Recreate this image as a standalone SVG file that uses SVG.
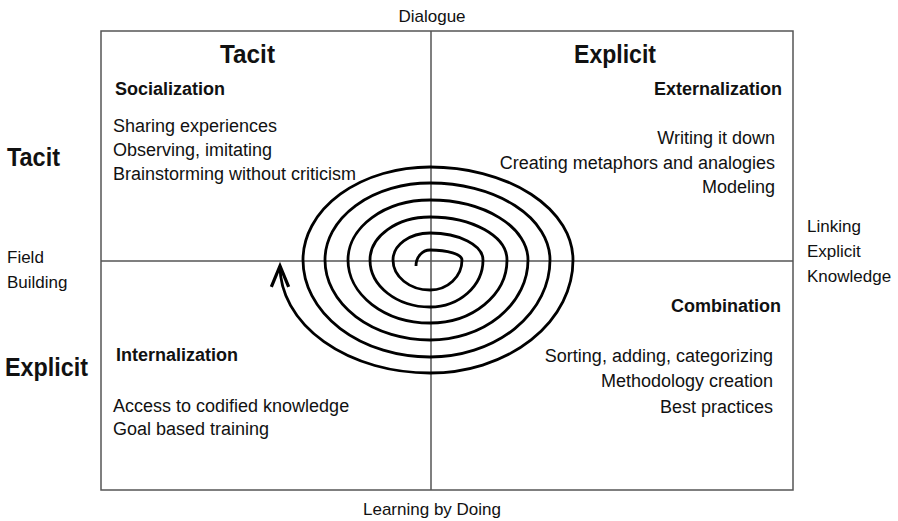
<svg xmlns="http://www.w3.org/2000/svg" width="898" height="521" viewBox="0 0 898 521">
<defs>
<style>
text{font-family:"Liberation Sans",Arial,sans-serif;fill:#111}
.b{font-weight:bold}
.h{font-size:26px;font-weight:bold}
.s{font-size:18px}
.a{font-size:17px}
.e{text-anchor:end}
.m{text-anchor:middle}
.grid{stroke:#555;stroke-width:1.5;fill:none}
.sp{stroke:#000;stroke-width:2.8;fill:none}
</style>
<marker id="arr" markerUnits="userSpaceOnUse" markerWidth="30" markerHeight="30" refX="0" refY="0" viewBox="-22 -12 26 24" orient="auto">
<path d="M -18 -7.5 L 0 0 L -18 7.5" fill="none" stroke="#000" stroke-width="2.8" stroke-linejoin="miter"/>
</marker>
</defs>
<rect width="898" height="521" fill="#fff"/>
<g id="grid">
<rect class="grid" x="101" y="31" width="692" height="459"/>
<line class="grid" x1="431" y1="31" x2="431" y2="490"/>
<line class="grid" x1="101" y1="261" x2="793" y2="261"/>
</g>
<g id="connectors">
<path class="sp" marker-end="url(#arr)" d="M 416 266 A 14 16 0 0 1 430 250 A 32 10 0 0 1 462 260 A 32 30 0 0 1 430 290 A 37 30 0 0 1 393 260 A 37 27 0 0 1 430 233 A 53 27 0 0 1 483 260 A 53 47 0 0 1 430 307 A 60 47 0 0 1 370 260 A 60 43 0 0 1 430 217 A 77 43 0 0 1 507 260 A 77 63 0 0 1 430 323 A 82 63 0 0 1 348 260 A 82 60 0 0 1 430 200 A 98 60 0 0 1 528 260 A 98 80 0 0 1 430 340 A 105 80 0 0 1 325 260 A 105 77 0 0 1 430 183 A 120 77 0 0 1 550 260 A 120 97 0 0 1 430 357 A 127 97 0 0 1 303 260 A 127 93 0 0 1 430 167 A 143 93 0 0 1 573 260 A 143 113 0 0 1 430 373 A 150 107 0 0 1 280 266"/>
</g>
<g id="axis-labels">
<text class="a m" x="432" y="22">Dialogue</text>
<text class="a m" x="432" y="515">Learning by Doing</text>
<text class="a" x="7" y="263">Field</text>
<text class="a" x="7" y="288">Building</text>
<text class="a" x="807" y="232">Linking</text>
<text class="a" x="807" y="257">Explicit</text>
<text class="a" x="807" y="282">Knowledge</text>
<text class="h" x="7" y="166" textLength="53" lengthAdjust="spacingAndGlyphs">Tacit</text>
<text class="h" x="5" y="376" textLength="83" lengthAdjust="spacingAndGlyphs">Explicit</text>
</g>
<g id="header-tacit"><text class="h" x="220" y="63" textLength="55" lengthAdjust="spacingAndGlyphs">Tacit</text></g>
<g id="header-explicit"><text class="h" x="574" y="63" textLength="82" lengthAdjust="spacingAndGlyphs">Explicit</text></g>
<g id="socialization">
<text class="s b" x="115" y="95">Socialization</text>
<text class="s" x="113" y="132">Sharing experiences</text>
<text class="s" x="113" y="156">Observing, imitating</text>
<text class="s" x="113" y="180">Brainstorming without criticism</text>
</g>
<g id="externalization">
<text class="s b e" x="782" y="95">Externalization</text>
<text class="s e" x="775" y="144">Writing it down</text>
<text class="s e" x="775" y="169">Creating metaphors and analogies</text>
<text class="s e" x="775" y="193">Modeling</text>
</g>
<g id="internalization">
<text class="s b" x="116" y="361">Internalization</text>
<text class="s" x="113" y="412">Access to codified knowledge</text>
<text class="s" x="113" y="435">Goal based training</text>
</g>
<g id="combination">
<text class="s b e" x="781" y="312">Combination</text>
<text class="s e" x="773" y="362">Sorting, adding, categorizing</text>
<text class="s e" x="773" y="387">Methodology creation</text>
<text class="s e" x="773" y="413">Best practices</text>
</g>
</svg>
